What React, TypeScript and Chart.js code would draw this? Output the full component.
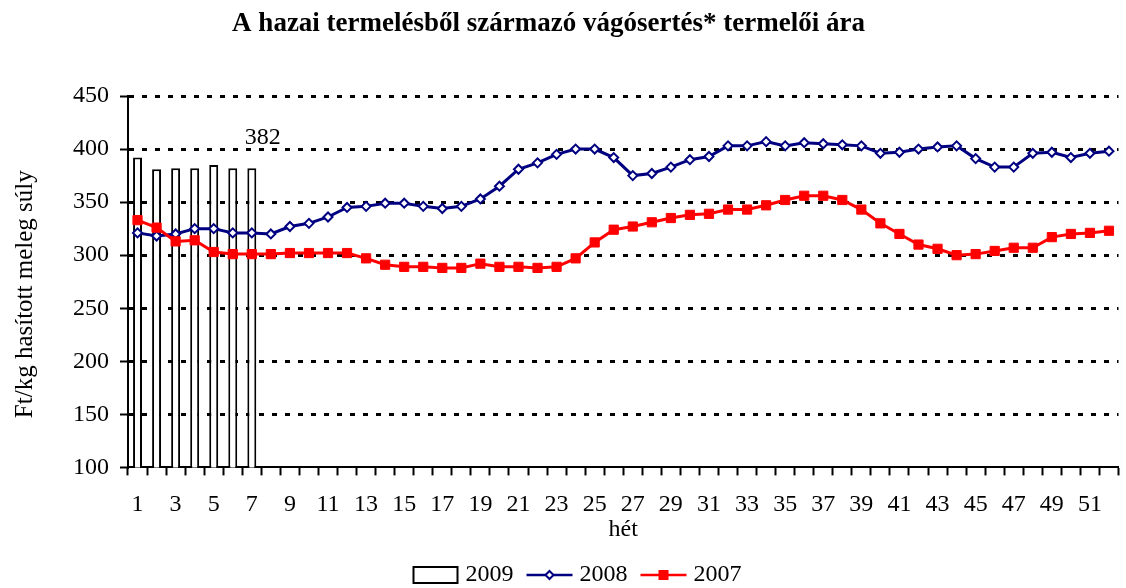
import React, { useEffect, useRef } from "react";
import { Chart, registerables } from "chart.js";

Chart.register(...registerables);

// trailing spaces only shift the centred text to where the original sits
const chartTitle = "A hazai termelésből származó vágósertés* termelői ára    ";
const yAxisTitle = "Ft/kg hasított meleg súly    ";
const xAxisTitle = "hét";

const weeks = [
  "1", "2", "3", "4", "5", "6", "7", "8", "9", "10",
  "11", "12", "13", "14", "15", "16", "17", "18", "19", "20",
  "21", "22", "23", "24", "25", "26", "27", "28", "29", "30",
  "31", "32", "33", "34", "35", "36", "37", "38", "39", "40",
  "41", "42", "43", "44", "45", "46", "47", "48", "49", "50",
  "51", "52",
];

const seriesNames = ["2009", "2008", "2007"];

const prices2009 = [392, 381, 382, 382, 385, 382, 382];

const prices2008 = [
  321, 318, 320, 325, 325, 321, 321, 320, 327, 330,
  336, 345, 346, 349, 349, 346, 344, 346, 353, 365,
  381, 387, 395, 400, 400, 392, 375, 377, 383, 390,
  393, 403, 403, 407, 403, 406, 405, 404, 403, 396,
  397, 400, 402, 403, 391, 383, 383, 396, 397, 392,
  396, 398,
];

const prices2007 = [
  333, 326, 313, 314, 303, 301, 301, 301, 302, 302,
  302, 302, 297, 291, 289, 289, 288, 288, 292, 289,
  289, 288, 289, 297, 312, 324, 327, 331, 335, 338,
  339, 343, 343, 347, 352, 356, 356, 352, 343, 330,
  320, 310, 306, 300, 301, 304, 307, 307, 317, 320,
  321, 323,
];

const yMin = 100;
const yMax = 450;
const yStep = 50;
const labeledBarIndex = 6;

const FONT = '"Liberation Serif", "Times New Roman", serif';
const NAVY = "#000080";
const RED = "#FF0000";

const barLabelPlugin = {
  id: "barLabel",
  afterDatasetsDraw(chart: any) {
    const meta = chart.getDatasetMeta(0);
    const el = meta && meta.data[labeledBarIndex];
    if (!el) return;
    const ctx = chart.ctx;
    ctx.save();
    ctx.font = `24px ${FONT}`;
    ctx.fillStyle = "#000";
    ctx.textAlign = "center";
    ctx.textBaseline = "middle";
    ctx.fillText(String(prices2009[labeledBarIndex]), el.x + 11, el.y - 30);
    ctx.restore();
  },
};

const bottomLegendPlugin = {
  id: "bottomLegend",
  afterDraw(chart: any) {
    const ctx = chart.ctx;
    const iconW = 46;
    const gapIconText = 7;
    const gapItems = 13;
    const centerX = 577;
    const cy = 575;
    ctx.save();
    ctx.font = `24px ${FONT}`;
    const widths = seriesNames.map((n) => iconW + gapIconText + ctx.measureText(n).width);
    const total = widths.reduce((a, b) => a + b, 0) + gapItems * (seriesNames.length - 1);
    let x = centerX - total / 2;
    seriesNames.forEach((name, i) => {
      if (i === 0) {
        ctx.fillStyle = "#fff";
        ctx.fillRect(x + 1, cy - 8, iconW - 2, 16);
        ctx.strokeStyle = "#000";
        ctx.lineWidth = 2;
        ctx.strokeRect(x + 1, cy - 8, iconW - 2, 16);
      } else {
        const color = i === 1 ? NAVY : RED;
        ctx.strokeStyle = color;
        ctx.lineWidth = 2.5;
        ctx.beginPath();
        ctx.moveTo(x, cy);
        ctx.lineTo(x + iconW, cy);
        ctx.stroke();
        const mx = x + iconW / 2;
        if (i === 1) {
          ctx.beginPath();
          ctx.moveTo(mx - 4, cy);
          ctx.lineTo(mx, cy - 4);
          ctx.lineTo(mx + 4, cy);
          ctx.lineTo(mx, cy + 4);
          ctx.closePath();
          ctx.fillStyle = "#fff";
          ctx.fill();
          ctx.lineWidth = 2;
          ctx.stroke();
        } else {
          ctx.fillStyle = RED;
          ctx.fillRect(mx - 5, cy - 5, 10, 10);
        }
      }
      ctx.fillStyle = "#000";
      ctx.textAlign = "left";
      ctx.textBaseline = "middle";
      ctx.fillText(name, x + iconW + gapIconText, cy);
      x += widths[i] + gapItems;
    });
    ctx.restore();
  },
};

export default function App() {
  const ref = useRef<HTMLCanvasElement | null>(null);

  useEffect(() => {
    if (!ref.current) return;
    Chart.defaults.font.family = FONT;
    Chart.defaults.color = "#000";

    const chart = new Chart(ref.current, {
      type: "bar",
      data: {
        labels: weeks,
        datasets: [
          {
            type: "bar",
            label: seriesNames[0],
            data: prices2009,
            backgroundColor: "#fff",
            borderColor: "#000",
            borderWidth: 2,
            barPercentage: 0.47,
            categoryPercentage: 1,
            order: 3,
          } as any,
          {
            type: "line",
            label: seriesNames[1],
            data: prices2008,
            borderColor: NAVY,
            borderWidth: 3,
            pointStyle: "rectRot",
            pointRadius: 4.5,
            pointBorderWidth: 2,
            pointBackgroundColor: "#fff",
            pointBorderColor: NAVY,
            tension: 0,
            order: 2,
          },
          {
            type: "line",
            label: seriesNames[2],
            data: prices2007,
            borderColor: RED,
            borderWidth: 3,
            pointStyle: "rect",
            pointRadius: 6.5,
            pointBorderWidth: 1,
            pointBackgroundColor: RED,
            pointBorderColor: RED,
            tension: 0,
            order: 1,
          },
        ],
      },
      options: {
        responsive: false,
        animation: false,
        devicePixelRatio: 1,
        layout: { padding: { left: 0, right: 2, top: 0, bottom: 37 } },
        plugins: {
          tooltip: { enabled: false },
          legend: { display: false },
          title: {
            display: true,
            text: chartTitle,
            font: { size: 27, weight: "bold", family: FONT },
            color: "#000",
            padding: { top: 8, bottom: 55.6 },
          },
        },
        scales: {
          x: {
            type: "category",
            offset: true,
            grid: {
              offset: true,
              drawOnChartArea: false,
              drawTicks: true,
              tickLength: 8,
              tickColor: "#000",
              tickWidth: 2,
            },
            border: { display: true, color: "#000", width: 2 },
            ticks: {
              autoSkip: false,
              maxRotation: 0,
              minRotation: 0,
              padding: 15,
              font: { size: 24, family: FONT },
              color: "#000",
              callback: (_v: any, i: number) => (i % 2 === 0 ? weeks[i] : ""),
            },
            title: {
              display: true,
              text: xAxisTitle,
              font: { size: 24, family: FONT },
              color: "#000",
              padding: { top: -19, bottom: 7 },
            },
          },
          y: {
            min: yMin,
            max: yMax,
            grid: {
              color: (c: any) => (c.tick && c.tick.value === yMin ? "rgba(0,0,0,0)" : "#000"),
              lineWidth: 3,
              drawTicks: true,
              tickLength: 8,
              tickColor: "#000",
              tickWidth: 2,
            },
            border: { display: true, color: "#000", width: 2, dash: [5, 8] },
            ticks: {
              stepSize: yStep,
              padding: 11,
              font: { size: 24, family: FONT },
              color: "#000",
            },
            title: {
              display: true,
              text: yAxisTitle,
              font: { size: 25, family: FONT },
              color: "#000",
              padding: { top: 10, bottom: 0 },
            },
            afterFit: (scale: any) => {
              scale.width = 128;
            },
          },
        },
      } as any,
      plugins: [barLabelPlugin, bottomLegendPlugin],
    });
    return () => chart.destroy();
  }, []);

  return (
    <div
      style={{
        position: "fixed",
        left: 0,
        top: 0,
        width: 1126,
        height: 588,
        background: "#fff",
      }}
    >
      <canvas ref={ref} width={1126} height={588} style={{ display: "block" }} />
    </div>
  );
}
